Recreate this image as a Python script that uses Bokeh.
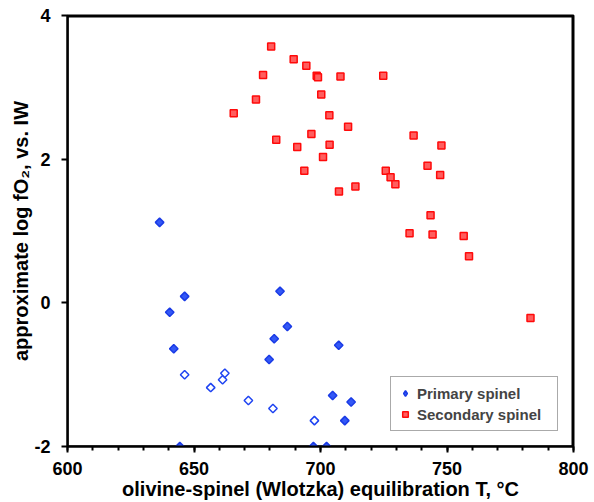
import numpy as np
from bokeh.plotting import figure
from bokeh.models import (Range1d, FixedTicker, Legend, LegendItem, PrintfTickFormatter)
from bokeh.embed import file_html
from bokeh.resources import INLINE

# ---- data ----
prim_filled_T = [636.4, 646.3, 640.4, 642.0, 679.7, 681.7, 684.0, 686.9, 707.2, 704.8, 712.1, 709.6, 644.4, 697.2, 702.4]
prim_filled_fO2 = [1.12, 0.09, -0.13, -0.64, -0.79, -0.50, 0.16, -0.33, -0.59, -1.29, -1.38, -1.64, -2.00, -2.00, -2.00]

prim_open_T = [646.3, 656.6, 661.3, 662.2, 671.5, 681.2, 697.6]
prim_open_fO2 = [-1.00, -1.18, -1.07, -0.98, -1.36, -1.47, -1.64]

sec_T = [680.5, 689.4, 694.4, 677.3, 698.5, 699.0, 707.9, 724.8, 700.3, 674.5,
         665.7, 703.5, 710.9, 696.4, 682.5, 703.6, 690.8, 701.0, 693.6, 725.8,
         727.7, 729.6, 707.3, 713.8, 736.8, 747.8, 742.3, 747.3, 743.5, 735.2,
         744.3, 756.6, 758.7, 783.0]
sec_fO2 = [3.57, 3.39, 3.30, 3.17, 3.16, 3.14, 3.15, 3.16, 2.90, 2.83,
           2.64, 2.61, 2.45, 2.35, 2.27, 2.20, 2.17, 2.03, 1.84, 1.84,
           1.75, 1.65, 1.55, 1.62, 2.33, 2.19, 1.91, 1.78, 1.22, 0.97,
           0.95, 0.93, 0.65, -0.21]

x_ticks = [600, 650, 700, 750, 800]
x_minor = list(range(600, 801, 10))
y_ticks = [-2, 0, 2, 4]

series_names = ["Primary spinel", "Secondary spinel"]
x_title = "olivine-spinel (Wlotzka) equilibration T, °C"
y_title = "approximate log fO\u2082, vs. IW"

FONT = "Liberation Sans"
W, H = 594, 502
BL, BR, BT, BB = 67, 21, 15, 56

p = figure(width=W, height=H, output_backend="svg", toolbar_location=None,
           x_range=Range1d(x_ticks[0], x_ticks[-1]), y_range=Range1d(y_ticks[0], y_ticks[-1]),
           min_border_left=BL, min_border_right=BR, min_border_top=BT, min_border_bottom=BB)
p.grid.visible = False
p.outline_line_color = "black"
p.outline_line_width = 2

for ax in (p.xaxis[0], p.yaxis[0]):
    ax.axis_line_width = 2
    ax.axis_line_color = "black"
    ax.major_tick_line_width = 2
    ax.minor_tick_line_width = 2
    ax.major_tick_in = 0
    ax.minor_tick_in = 0
    ax.major_tick_out = 6
    ax.major_label_text_font = FONT
    ax.major_label_text_font_style = "bold"
    ax.major_label_text_font_size = "18px"
    ax.major_label_text_color = "black"
    ax.formatter = PrintfTickFormatter(format="%d")
    ax.axis_label_text_font = FONT
    ax.axis_label_text_font_style = "bold"
    ax.axis_label_text_font_size = "20px"
    ax.axis_label_text_color = "black"

p.xaxis[0].ticker = FixedTicker(ticks=x_ticks, minor_ticks=x_minor)
p.xaxis[0].minor_tick_out = 4
p.xaxis[0].major_label_standoff = 9
p.xaxis[0].axis_label = x_title
p.xaxis[0].axis_label_standoff = 0
p.yaxis[0].ticker = FixedTicker(ticks=y_ticks, minor_ticks=[])
p.yaxis[0].minor_tick_out = 0
p.yaxis[0].major_label_standoff = 11
p.yaxis[0].axis_label = y_title
p.yaxis[0].axis_label_standoff = -1

# frame box (top and right edges), drawn one pixel inside the frame edge
px_x = (x_ticks[-1] - x_ticks[0]) / (W - BL - BR)
px_y = (y_ticks[-1] - y_ticks[0]) / (H - BT - BB)
p.quad(left=[x_ticks[0]], right=[x_ticks[-1] - px_x], bottom=[y_ticks[0]],
       top=[y_ticks[-1] - px_y], fill_alpha=0, line_color="black", line_width=2)

r_sec = p.scatter(sec_T, sec_fO2, marker="square", size=7, fill_color="#FF5E5E",
                  line_color="#FF0A0A", line_width=1.5)
r_open = p.scatter(prim_open_T, prim_open_fO2, marker="square", angle=np.pi / 4, size=6,
                   fill_color="white", line_color="#1F44F2", line_width=1.5)
r_prim = p.scatter(prim_filled_T, prim_filled_fO2, marker="square", angle=np.pi / 4, size=6,
                   fill_color="#3358F6", line_color="#1A3BE6", line_width=1.5)
# legend-only glyph (diamond), no visible point
r_leg = p.scatter([np.nan], [np.nan], marker="diamond", size=10,
                  fill_color="#3358F6", line_color="#1A3BE6", line_width=1.5)

legend = Legend(items=[LegendItem(label=series_names[0], renderers=[r_leg]),
                       LegendItem(label=series_names[1], renderers=[r_sec])],
                location="bottom_right", margin=15, padding=7, spacing=3,
                glyph_width=14, glyph_height=16, label_height=18, label_width=133,
                label_standoff=5, border_line_color="#555555", border_line_width=1,
                label_text_font=FONT, label_text_font_style="bold",
                label_text_font_size="15px", background_fill_alpha=1.0)
p.add_layout(legend)

open("out.html", "w").write(file_html(p, INLINE))
